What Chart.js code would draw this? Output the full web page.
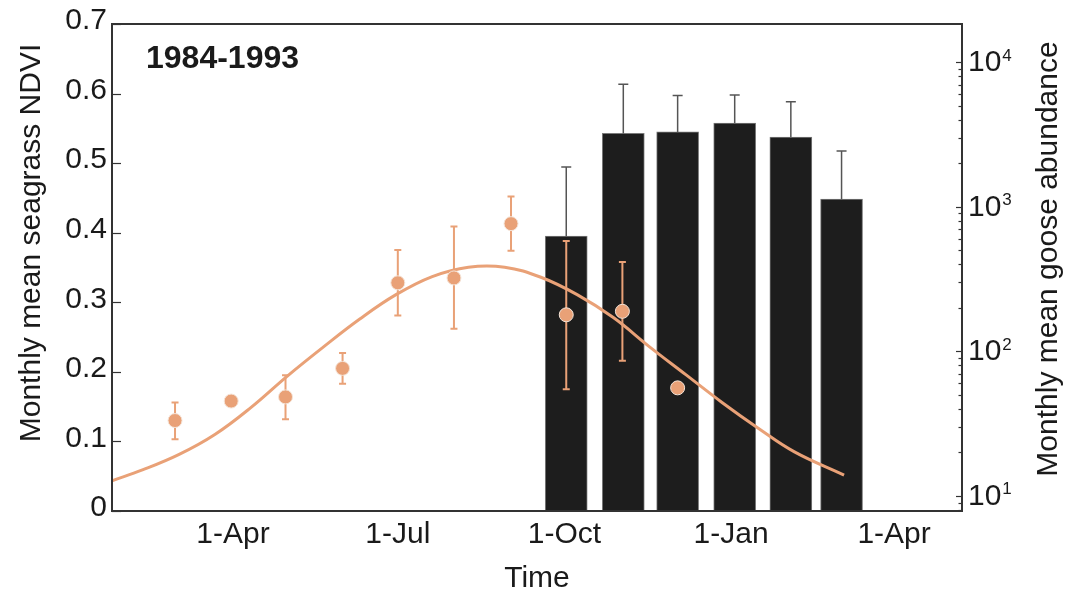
<!DOCTYPE html>
<html>
<head>
<meta charset="utf-8">
<script src="https://cdn.jsdelivr.net/npm/chart.js@4.4.1/dist/chart.umd.min.js"></script>
<style>
  html, body { margin: 0; padding: 0; background: #ffffff; }
  #wrap { width: 1066px; height: 595px; position: relative; }
</style>
</head>
<body>
<div id="wrap"><canvas id="c" width="1066" height="595"></canvas></div>
<script>
// ---------------- data (day of year, 1-Jan = 0) ----------------
const xTickDays   = [90, 181, 273, 365, 455];
const xTickLabels = ['1-Apr', '1-Jul', '1-Oct', '1-Jan', '1-Apr'];

const ndviTickValues = [0, 0.1, 0.2, 0.3, 0.4, 0.5, 0.6, 0.7];
const ndviTickLabels = ['0', '0.1', '0.2', '0.3', '0.4', '0.5', '0.6', '0.7'];

const gooseDecades = [10, 100, 1000, 10000];
const gooseDecadeExp = ['1', '2', '3', '4'];

// monthly NDVI points
const ndviDays  = [58, 89, 119, 150.5, 181, 212, 243.5, 274, 305, 335.5];
const ndviMean  = [0.130, 0.158, 0.164, 0.205, 0.328, 0.335, 0.413, 0.282, 0.287, 0.177];
const ndviUpper = [0.156, null, 0.195, 0.227, 0.375, 0.409, 0.452, 0.388, 0.358, null];
const ndviLower = [0.103, null, 0.132, 0.183, 0.281, 0.262, 0.374, 0.175, 0.216, null];

// fitted seasonal NDVI curve
const curveDays = [23.2, 40, 60, 80, 100, 120, 140, 160, 180, 200, 220, 240, 260,
                   280, 300, 320, 340, 360, 380, 400, 427.4];
const curveNdvi = [0.0435, 0.059, 0.081, 0.110, 0.149, 0.194, 0.236, 0.276, 0.311, 0.337, 0.3505, 0.3505, 0.336,
                   0.311, 0.278, 0.236, 0.196, 0.156, 0.119, 0.085, 0.0517];

// monthly mean goose abundance (log axis)
const gooseDays  = [274, 305.5, 335.5, 367, 398, 426];
const gooseMean  = [627, 3220, 3300, 3800, 3040, 1130];
const gooseUpper = [1890, 7060, 5890, 5930, 5330, 2430];

const periodLabel = '1984-1993';
const xTitle = 'Time';
const yTitle = 'Monthly mean seagrass NDVI';
const y2Title = 'Monthly mean goose abundance';

// ---------------- styling ----------------
const FONT = '"Liberation Sans", Arial, Helvetica, sans-serif';
const SALMON = '#E9A177';
const TEXT = '#1a1a1a';
const FRAME = '#333333';

const pts = (xs, ys) => xs.map((x, i) => ({ x: x, y: ys[i] }));

const decorPlugin = {
  id: 'decor',
  afterDatasetDraw(chart, args) {
    const ctx = chart.ctx;
    const ds = chart.data.datasets[args.index];
    if (ds._role === 'bars') {
      const x = chart.scales.x, y2 = chart.scales.y2;
      ctx.save();
      ctx.strokeStyle = '#555555';
      ctx.lineWidth = 1.5;
      gooseDays.forEach((d, i) => {
        const px = x.getPixelForValue(d);
        const top = y2.getPixelForValue(gooseUpper[i]);
        const base = y2.getPixelForValue(gooseMean[i]);
        ctx.beginPath();
        ctx.moveTo(px, base); ctx.lineTo(px, top);
        ctx.moveTo(px - 5, top); ctx.lineTo(px + 5, top);
        ctx.stroke();
      });
      ctx.restore();
    }
  },
  beforeDatasetDraw(chart, args) {
    const ctx = chart.ctx;
    const ds = chart.data.datasets[args.index];
    if (ds._role === 'points') {
      const x = chart.scales.x, y = chart.scales.y;
      ctx.save();
      ctx.strokeStyle = SALMON;
      ctx.lineWidth = 2;
      ndviDays.forEach((d, i) => {
        if (ndviUpper[i] == null) return;
        const px = x.getPixelForValue(d);
        const t = y.getPixelForValue(ndviUpper[i]);
        const b = y.getPixelForValue(ndviLower[i]);
        ctx.beginPath();
        ctx.moveTo(px, t); ctx.lineTo(px, b);
        ctx.moveTo(px - 3.5, t); ctx.lineTo(px + 3.5, t);
        ctx.moveTo(px - 3.5, b); ctx.lineTo(px + 3.5, b);
        ctx.stroke();
      });
      ctx.restore();
    }
  },
  afterDraw(chart) {
    const ctx = chart.ctx;
    const a = chart.chartArea;
    const y = chart.scales.y, y2 = chart.scales.y2;
    ctx.save();
    // frame
    ctx.strokeStyle = FRAME;
    ctx.lineWidth = 2;
    ctx.strokeRect(a.left, a.top, a.right - a.left, a.bottom - a.top);
    // left inward ticks
    ctx.lineWidth = 1.2;
    ndviTickValues.forEach(v => {
      const py = Math.round(y.getPixelForValue(v)) + 0.5;
      ctx.beginPath(); ctx.moveTo(a.left, py); ctx.lineTo(a.left + 9, py); ctx.stroke();
    });
    // right log ticks (major + minor)
    for (let dec = 1; dec <= 10000; dec *= 10) {
      for (let m = 1; m <= 9; m++) {
        const v = dec * m;
        if (v < y2.min || v > y2.max) continue;
        const py = Math.round(y2.getPixelForValue(v)) + 0.5;
        const len = m === 1 ? 6 : 3.5;
        ctx.beginPath(); ctx.moveTo(a.right, py); ctx.lineTo(a.right - len, py); ctx.stroke();
      }
    }
    // right labels 10^n
    ctx.fillStyle = TEXT;
    ctx.textAlign = 'left';
    ctx.textBaseline = 'alphabetic';
    gooseDecades.forEach((v, i) => {
      const py = y2.getPixelForValue(v);
      ctx.font = '30px ' + FONT;
      ctx.fillText('10', 968, py + 9);
      const w = ctx.measureText('10').width;
      ctx.font = '17px ' + FONT;
      ctx.fillText(gooseDecadeExp[i], 968 + w + 1, py - 1.5);
    });
    // axis titles (both read bottom-to-top)
    ctx.font = '30px ' + FONT;
    ctx.textAlign = 'center';
    ctx.save();
    ctx.translate(40, 243);
    ctx.rotate(-Math.PI / 2);
    ctx.fillText(yTitle, 0, 0);
    ctx.restore();
    ctx.save();
    ctx.translate(1057, 259);
    ctx.rotate(-Math.PI / 2);
    ctx.fillText(y2Title, 0, 0);
    ctx.restore();
    // period label
    ctx.font = 'bold 32px ' + FONT;
    ctx.textAlign = 'left';
    ctx.fillText(periodLabel, 146, 68);
    ctx.restore();
  }
};

const chart = new Chart(document.getElementById('c'), {
  type: 'bar',
  data: {
    datasets: [
      {
        _role: 'bars',
        type: 'bar',
        data: pts(gooseDays, gooseMean),
        yAxisID: 'y2',
        backgroundColor: '#1d1d1d',
        borderColor: '#7a7a7a',
        borderWidth: 1,
        borderSkipped: 'bottom',
        barThickness: 42,
        order: 3
      },
      {
        _role: 'curve',
        type: 'line',
        data: pts(curveDays, curveNdvi),
        yAxisID: 'y',
        borderColor: SALMON,
        borderWidth: 3,
        pointRadius: 0,
        fill: false,
        tension: 0.4,
        order: 2
      },
      {
        _role: 'points',
        type: 'line',
        data: pts(ndviDays, ndviMean),
        yAxisID: 'y',
        showLine: false,
        pointRadius: 7,
        pointBackgroundColor: SALMON,
        pointBorderColor: '#f4e4d8',
        pointBorderWidth: 1,
        order: 1
      }
    ]
  },
  options: {
    responsive: false,
    animation: false,
    events: [],
    layout: { padding: { top: 24, left: 0, right: 0, bottom: 0 } },
    plugins: { legend: { display: false }, tooltip: { enabled: false } },
    scales: {
      x: {
        type: 'linear',
        position: 'bottom',
        min: 23.2,
        max: 492.5,
        offset: false,
        afterBuildTicks: s => { s.ticks = xTickDays.map(v => ({ value: v })); },
        afterFit: s => { s.height = 84; },
        grid: { display: false, drawTicks: false },
        border: { display: false },
        ticks: {
          autoSkip: false,
          maxRotation: 0,
          padding: 6,
          color: TEXT,
          font: { family: FONT, size: 30 },
          callback: (v, i) => xTickLabels[i]
        },
        title: {
          display: true,
          text: xTitle,
          color: TEXT,
          font: { family: FONT, size: 30, lineHeight: 1.1 },
          padding: { top: 0, bottom: 0 }
        }
      },
      y: {
        type: 'linear',
        position: 'left',
        min: 0,
        max: 0.7,
        afterBuildTicks: s => { s.ticks = ndviTickValues.map(v => ({ value: v })); },
        afterFit: s => { s.width = 112; },
        grid: { display: false, drawTicks: false },
        border: { display: false },
        ticks: {
          padding: 5,
          labelOffset: -3,
          color: TEXT,
          font: { family: FONT, size: 30 },
          callback: (v, i) => ndviTickLabels[i]
        }
      },
      y2: {
        type: 'logarithmic',
        position: 'right',
        min: 7.87,
        max: 18400,
        afterFit: s => { s.width = 104; },
        grid: { display: false, drawTicks: false },
        border: { display: false },
        ticks: { display: false }
      }
    }
  },
  plugins: [decorPlugin]
});
</script>
</body>
</html>
